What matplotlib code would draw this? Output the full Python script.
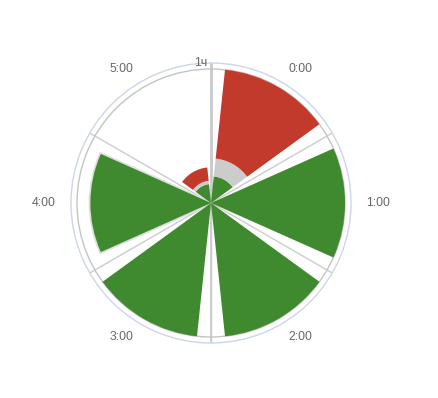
import numpy as np
import matplotlib
matplotlib.use("Agg")
import matplotlib.pyplot as plt

# data (minutes within each hour)
hours = ["0:00", "1:00", "2:00", "3:00", "4:00", "5:00"]
green_vals = [12, 60, 60, 60, 54, 8.5]
gray_vals = [8, 0, 0, 0, 0, 1.5]
red_vals = [40, 0, 0, 0, 0, 6]

GREEN = "#3f8a2f"
GRAY = "#cccccc"
RED = "#c23a2c"

plt.rcParams['font.family'] = ['Liberation Sans', 'DejaVu Sans']

fig = plt.figure(figsize=(4.38, 3.98), dpi=100)
# center (211,203) px, outer radius 140 px
ax = fig.add_axes([71 / 438, 55 / 398, 280 / 438, 280 / 398], projection='polar')
ax.set_theta_zero_location('N')
ax.set_theta_direction(-1)

ymax = 60
rmax = ymax * 140 / 134
ax.set_ylim(0, rmax)
ax.set_axisbelow(True)

n = len(hours)
step = 2 * np.pi / n
centers = np.arange(n) * step + step / 2
width = step * 0.8

ax.set_xticks(np.arange(n) * step)
ax.set_xticklabels([])
ax.set_yticks([ymax])
ax.set_yticklabels([])
ax.xaxis.grid(True, color='#cccccc', linewidth=1)
ax.yaxis.grid(True, color='#c4c4c4', linewidth=1)
ax.spines['polar'].set_color('#ccd6eb')
ax.spines['polar'].set_linewidth(1)

# thicker vertical axis line
ax.plot([0, 0], [0, rmax], color='#c8c8c8', linewidth=2, zorder=0.5)
ax.plot([np.pi, np.pi], [0, rmax], color='#d0d0d0', linewidth=1.5, zorder=0.5)

green = np.array(green_vals)
gray = np.array(gray_vals)
red = np.array(red_vals)

# faint halo around the 4:00 bar
ax.bar(centers[4], green[4], width=width, bottom=0, color='none',
       edgecolor='#dedede', linewidth=2.5, zorder=1.9)
ax.bar(centers, green, width=width, bottom=0, color=GREEN, linewidth=0, zorder=2)
ax.bar(centers, gray, width=width, bottom=green, color=GRAY, linewidth=0, zorder=2)
ax.bar(centers, red, width=width, bottom=green + gray, color=RED, linewidth=0, zorder=2)

# category labels outside the circle
r_lab = rmax * 155 / 140
for th, lab in zip(centers, hours):
    s = np.sin(th)
    if s > 0.1:
        ha = 'left'
    elif s < -0.1:
        ha = 'right'
    else:
        ha = 'center'
    ax.text(th, r_lab, lab, ha=ha, va='center', fontsize=8.8,
            color='#666666', clip_on=False)

# y axis label at the top
ax.annotate('1ч', xy=(0, rmax), xytext=(-2.5, 0), textcoords='offset points',
            ha='right', va='center', fontsize=8.8, color='#666666',
            annotation_clip=False)

fig.savefig("out.png", dpi=100)
